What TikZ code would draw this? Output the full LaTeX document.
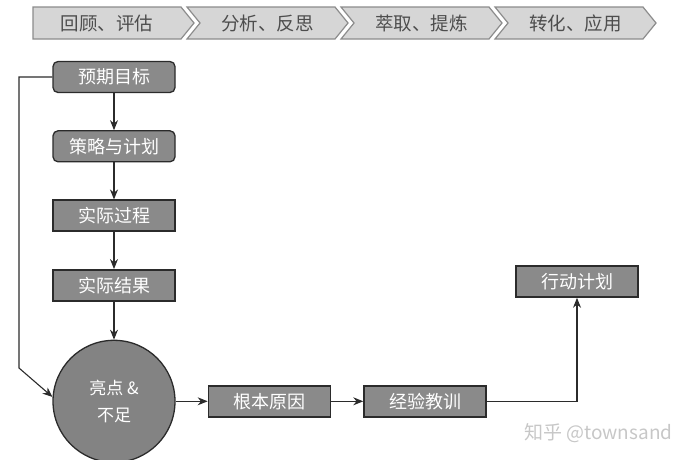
\documentclass[tikz,border=0pt]{standalone}
\usepackage{fontspec}
\usepackage{tikz}
\usetikzlibrary{positioning, arrows.meta}
\newfontfamily\cjk{Noto Sans CJK SC}
\definecolor{phaseFill}{HTML}{D6D6D6}
\definecolor{phaseLine}{HTML}{8C8C8C}
\definecolor{phaseText}{HTML}{4D4D4D}
\definecolor{boxFill}{HTML}{8A8A8A}
\definecolor{boxLine}{HTML}{2B2B2B}

\begin{document}
\begin{tikzpicture}[x=1pt, y=-1pt,
    node distance=37pt,
    phase/.style={draw=phaseLine, fill=phaseFill, line width=1.2pt},
    phasetext/.style={text=phaseText, font={\cjk\fontsize{18.5}{20}\selectfont}},
    roundbox/.style={draw=boxLine, fill=boxFill, line width=1.3pt, rounded corners=5pt,
      minimum width=122pt, minimum height=31pt, text=white,
      font={\cjk\fontsize{18}{20}\selectfont}},
    flatbox/.style={roundbox, rounded corners=0pt, line width=1.6pt},
    arr/.style={-{Stealth[length=10pt, width=8pt]}, line width=1.1pt, boxLine}]
    \useasboundingbox (0,0) rectangle (690,459);
    % phases along the top
    \foreach \lbl [count=\i] in {回顾、评估, 分析、反思, 萃取、提炼, 转化、应用} {
      \pgfmathsetmacro\L{33+154*(\i-1)}
      \pgfmathsetmacro\n{(\i>1)*13}
      \draw[phase] (\L,7) -- ++(148,0) -- ++(13,16) -- ++(-13,16) -- ++(-148,0)
        -- ++(\n,-16) -- cycle;
      \node[phasetext] (phase\i) at (\L+74+\n/2,23) {\lbl};
    }
    % main flow
    \node[roundbox] (goal) at (114,77) {预期目标};
    \node[roundbox, below=of goal] (plan) {策略与计划};
    \node[flatbox, below=of plan] (process) {实际过程};
    \node[flatbox, below=of process] (result) {实际结果};
    \node[circle, draw=boxLine, fill=boxFill!95!black, line width=1.3pt,
      minimum size=122pt, below=38pt of result, text=white, align=center,
      font={\cjk\fontsize{17}{27}\selectfont}] (review) {亮点 \&\\不足};
    \node[flatbox, right=32pt of review] (cause) {根本原因};
    \node[flatbox, right=32pt of cause] (lesson) {经验教训};
    \node[flatbox] (action) at (577,281.5) {行动计划};
    \coordinate (bend) at (19,368);
    \draw[arr] (goal) -- (plan);
    \draw[arr] (plan) -- (process);
    \draw[arr] (process) -- (result);
    \draw[arr] (result) -- (review);
    \draw[arr] (goal.west) -| (bend) -- (review.176);
    \draw[arr] (review) -- (cause);
    \draw[arr] (cause) -- (lesson);
    \draw[arr] (lesson.east) -| (action.south);
    % watermark
    \node[text=black!22, font={\cjk\fontsize{19}{21}\selectfont}, anchor=east]
      (mark) at (676,433) {知乎 @townsand};
\end{tikzpicture}
\end{document}
